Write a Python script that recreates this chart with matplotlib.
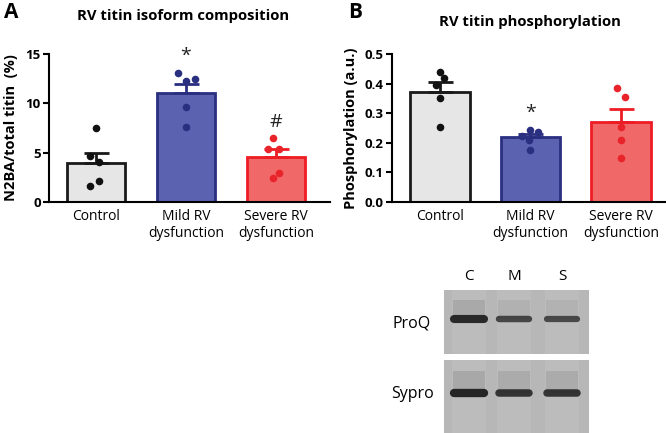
import numpy as np
import matplotlib
matplotlib.use("Agg")
import matplotlib.pyplot as plt

plt.rcParams['font.family'] = ['Open Sans', 'DejaVu Sans']

# data
groups = ['Control', 'Mild RV\ndysfunction', 'Severe RV\ndysfunction']

iso_mean = [4.0, 11.0, 4.55]
iso_sem = [1.0, 1.0, 0.8]
iso_points = [
    [7.45, 4.64, 4.06, 2.1, 1.66],
    [13.04, 12.26, 12.46, 9.65, 7.62],
    [6.5, 5.4, 5.4, 2.9, 2.4],
]
iso_jitter = [
    [0.0, -0.06, 0.04, 0.04, -0.06],
    [-0.09, 0.0, 0.1, 0.0, 0.0],
    [-0.03, -0.09, 0.03, 0.03, -0.03],
]
iso_marks = ['', '*', '#']
iso_mark_y = [0, 13.9, 7.2]

phos_mean = [0.372, 0.219, 0.271]
phos_sem = [0.034, 0.011, 0.044]
phos_points = [
    [0.44, 0.419, 0.395, 0.352, 0.254],
    [0.244, 0.235, 0.223, 0.209, 0.177],
    [0.384, 0.354, 0.253, 0.209, 0.148],
]
phos_jitter = [
    [0.0, 0.05, -0.04, 0.0, 0.0],
    [0.0, 0.09, -0.09, -0.01, 0.0],
    [-0.04, 0.05, 0.0, 0.0, 0.0],
]
phos_marks = ['', '*', '']
phos_mark_y = [0, 0.27, 0]

fills = ['#e6e6e6', '#5b63b0', '#f06868']
edges = ['#1a1a1a', '#2b2f80', '#ee1c25']
dots = ['#111111', '#2b2f80', '#e8232a']

lanes = ['C', 'M', 'S']
blot_rows = ['ProQ', 'Sypro']
band_strength = [
    [0.95, 0.55, 0.5],
    [1.0, 0.8, 0.8],
]

fig = plt.figure(figsize=(6.66, 4.33), dpi=100)
W, H = 666, 433


def add_ax(x0, y0, x1, y1):
    return fig.add_axes([x0 / W, 1 - y1 / H, (x1 - x0) / W, (y1 - y0) / H])


def bar_panel(ax, means, sems, points, jitter, marks, mark_y, ylim, yticks, ylabel, width):
    x = np.arange(len(groups))
    for i in range(len(groups)):
        ax.bar(x[i], means[i], width=width, color=fills[i], edgecolor=edges[i], linewidth=2, zorder=2)
        ax.errorbar(x[i], means[i], yerr=[[0], [sems[i]]], color=edges[i], capsize=9,
                    capthick=2, elinewidth=2, zorder=3)
        ax.scatter(x[i] + np.array(jitter[i]), points[i], s=30, color=dots[i], zorder=4, linewidths=0)
        if marks[i]:
            ax.text(x[i], mark_y[i], marks[i], ha='center', va='bottom', fontsize=14, color='#222222')
    ax.set_ylim(*ylim)
    ax.set_yticks(yticks)
    ax.set_xticks(x)
    ax.set_xticklabels(groups, fontsize=10, linespacing=1.2)
    ax.set_ylabel(ylabel, fontsize=10.5, fontweight='bold', labelpad=5)
    for lab in ax.get_yticklabels():
        lab.set_fontweight('bold')
        lab.set_fontsize(9.5)
    ax.spines['top'].set_visible(False)
    ax.spines['right'].set_visible(False)
    ax.spines['left'].set_linewidth(1.5)
    ax.spines['bottom'].set_linewidth(1.5)
    ax.tick_params(axis='y', width=1.5, length=4, pad=2)
    ax.tick_params(axis='x', length=0, pad=5)


# panel A
axA = add_ax(49, 54, 330, 202)
axA.set_xlim(-0.52, 2.6)
bar_panel(axA, iso_mean, iso_sem, iso_points, iso_jitter, iso_marks, iso_mark_y,
          (0, 15), [0, 5, 10, 15], 'N2BA/total titin  (%)', 0.64)
axA.set_yticklabels(['0', '5', '10', '15'])
fig.text(183 / W, 1 - 16 / H, 'RV titin isoform composition', fontsize=10.7, fontweight='bold',
         ha='center', va='center')
fig.text(4 / W, 1 - 12 / H, 'A', fontsize=15, fontweight='bold', va='center')

# panel B
axB = add_ax(392, 54, 666, 202)
axB.set_xlim(-0.53, 2.5)
bar_panel(axB, phos_mean, phos_sem, phos_points, phos_jitter, phos_marks, phos_mark_y,
          (0, 0.5), [0, 0.1, 0.2, 0.3, 0.4, 0.5], 'Phosphorylation (a.u.)', 0.66)
axB.set_yticklabels(['0.0', '0.1', '0.2', '0.3', '0.4', '0.5'])
fig.text(530 / W, 1 - 22 / H, 'RV titin phosphorylation', fontsize=10.7, fontweight='bold',
         ha='center', va='center')
fig.text(348 / W, 1 - 12 / H, 'B', fontsize=15, fontweight='bold', va='center')

# gel images
boxes = [(444, 290, 589, 354), (444, 360, 589, 433)]
band_y = [0.55, 0.55]
lane_x = [469, 514, 562]
for r, (x0, y0, x1, y1) in enumerate(boxes):
    g = add_ax(x0, y0, x1, y1)
    g.set_facecolor('#b7b7b7')
    g.set_xlim(x0, x1)
    g.set_ylim(0, 1)
    for j, lx in enumerate(lane_x):
        s = band_strength[r][j]
        g.fill_between([lx - 17, lx + 17], 0, 1, color='#c2c2c2', alpha=0.5, lw=0)
        g.fill_between([lx - 16, lx + 16], band_y[r], band_y[r] + 0.3, color='#8a8a8a', alpha=0.4 * s, lw=0)
        g.plot([lx - 15, lx + 15], [band_y[r], band_y[r]], color='#1e1e1e', alpha=0.5 + 0.45 * s,
               lw=3 + 3 * s, solid_capstyle='round')
    g.set_xticks([])
    g.set_yticks([])
    for sp in g.spines.values():
        sp.set_visible(False)
    fig.text(412 / W, 1 - (y0 + 34) / H, blot_rows[r], fontsize=11.5, ha='center', va='center')

for j, lx in enumerate(lane_x):
    fig.text(lx / W, 1 - 277 / H, lanes[j], fontsize=11, ha='center', va='center')

fig.savefig('out.png', dpi=100)
